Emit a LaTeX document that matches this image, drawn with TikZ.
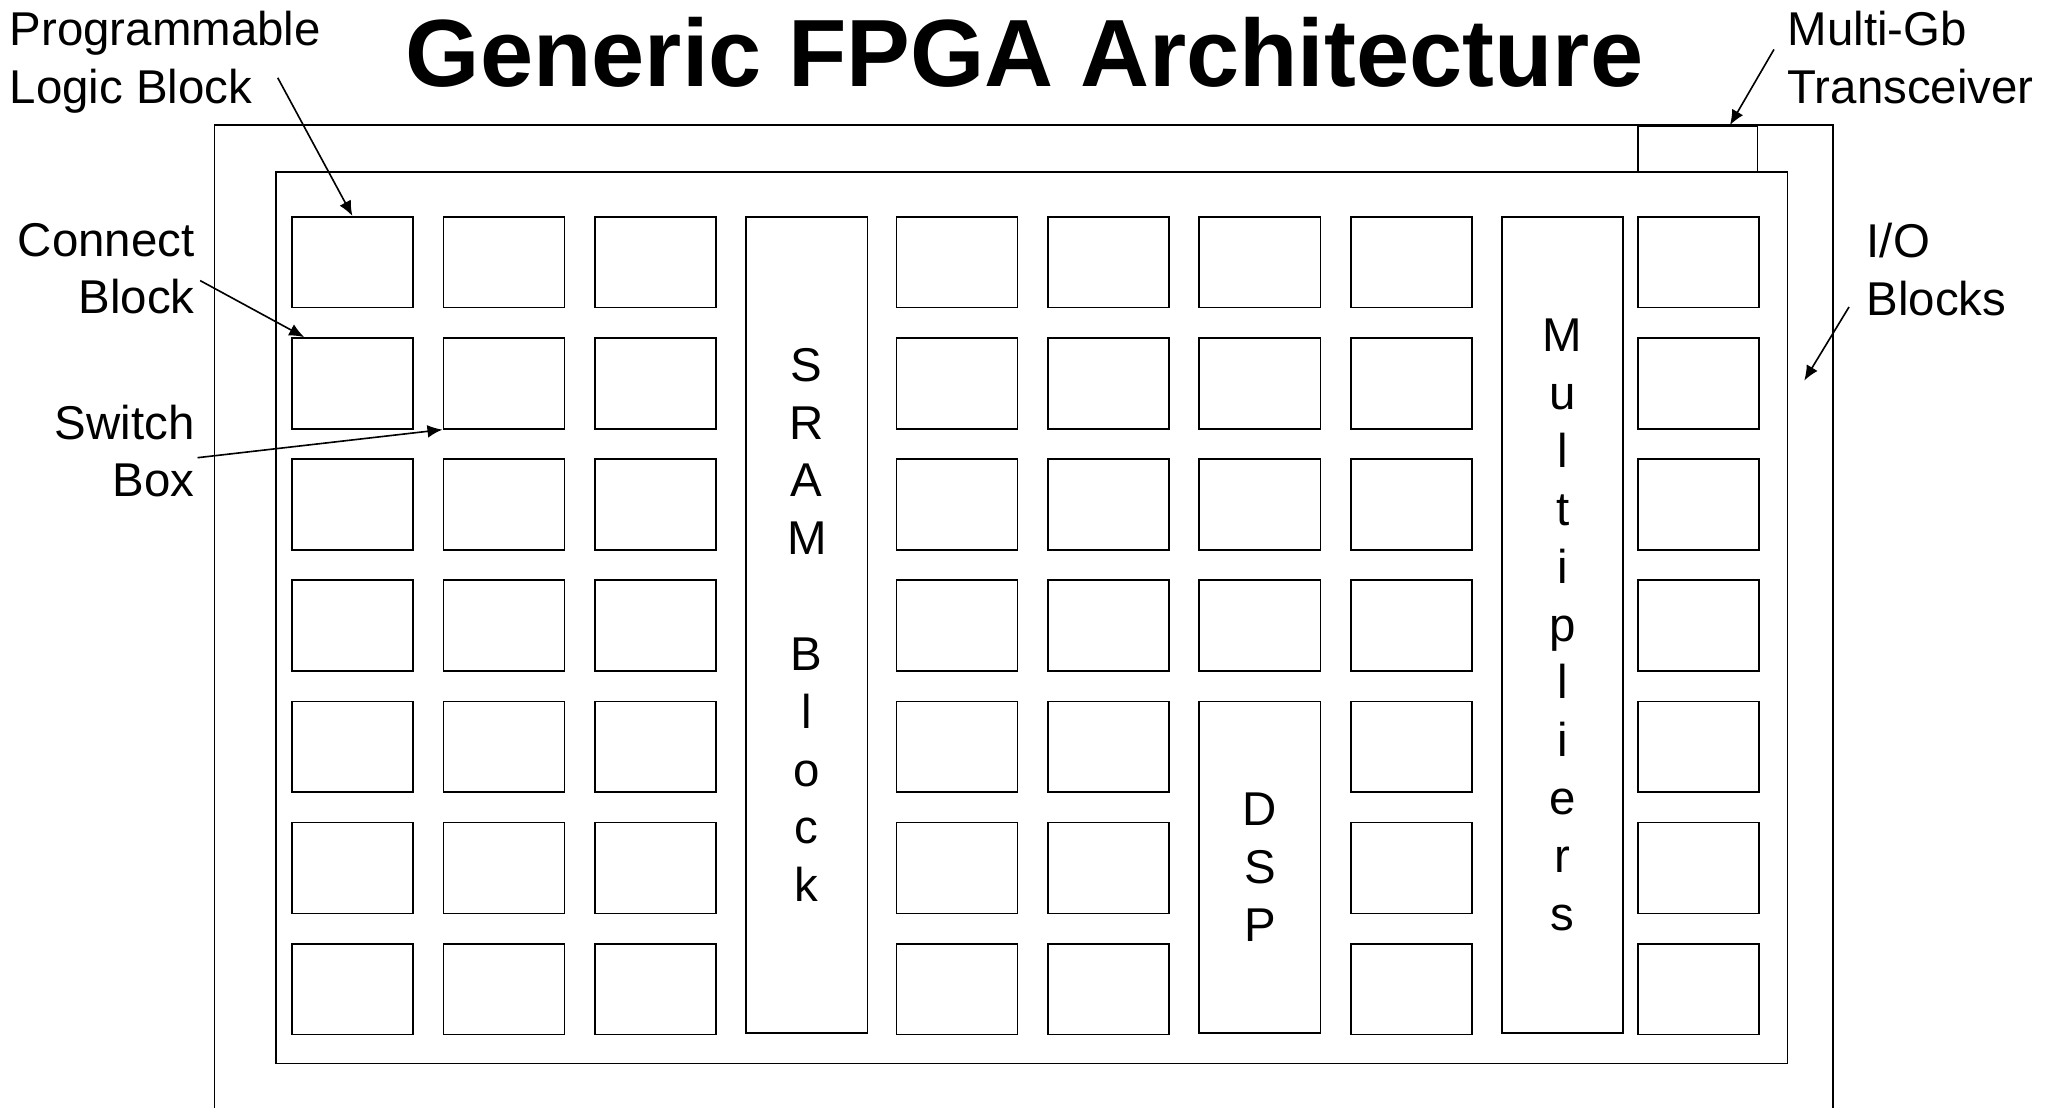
\documentclass[tikz,border=0pt]{standalone}
\usepackage{fontspec}
\setmainfont{Liberation Sans}
\usetikzlibrary{arrows.meta, positioning}

\begin{document}
\begin{tikzpicture}[
        x=0.02cm, y=-0.02cm,
        txt/.style={font=\fontsize{20.5}{25}\selectfont},
        lbl/.style={txt, inner sep=0pt},
        clb/.style={draw, line width=0.7pt, anchor=north west, inner sep=0pt, minimum width=1.84cm, minimum height=1.38cm},
        tall/.style={clb, txt, align=center, minimum height=12.4cm},
        arrow/.style={-{Latex[length=6.5pt,width=5.5pt]}, line width=0.7pt}
    ]
    \useasboundingbox (0,0) rectangle (1568,841);

    % Title
    \node[font=\fontsize{41.3}{50}\selectfont\bfseries, inner sep=0pt, anchor=base] (title) at (778,66) {Generic FPGA Architecture};

    % I/O ring, fabric and transceiver
    \draw[line width=0.7pt] (163,841) |- (1392,95) -- (1392,841);
    \node[clb, minimum width=22.96cm, minimum height=13.54cm] (fabric) at (209,130) {};
    \node[clb, minimum width=1.82cm, minimum height=0.7cm] (xcvr-blk) at (1243,95) {};

    % Logic blocks
    \foreach \c/\x in {0/221,1/336,2/451,4/680,5/795,7/1025,9/1243}
        \foreach \r in {0,...,6}
            \node[clb] (clb-\c-\r) at ({\x},{164+92*\r}) {};
    \foreach \r in {0,...,3}
        \node[clb] (clb-6-\r) at (910,{164+92*\r}) {};

    % Hard blocks
    \node[tall] (sram) at (566,164) {S\\R\\A\\M\\\mbox{}\\B\\l\\o\\c\\k};
    \node[tall] (mult) at (1140,164) {M\\u\\l\\t\\i\\p\\l\\i\\e\\r\\s};
    \node[tall, minimum height=5.04cm] (dsp) at (910,532) {D\\S\\P};

    % Labels
    \node[lbl, align=left, anchor=north west] (plb) at (7,8) {Programmable\\Logic Block};
    \node[lbl, align=right, anchor=north east] (conn) at (148,169) {Connect\\Block};
    \node[lbl, align=right, anchor=north east] (switch) at (148,307) {Switch\\Box};
    \node[lbl, align=left, anchor=north west] (xcvr) at (1357,8) {Multi-Gb\\Transceiver};
    \node[lbl, align=left, anchor=north west] (io) at (1417,169) {I/O\\Blocks};

    % Arrows
    \coordinate (ring-e) at (1370,289);
    \draw[arrow] ([shift={(-33,12)}]plb.east) -- (clb-0-0.north);
    \draw[arrow] ([shift={(4,9)}]conn.east) -- ([shift={(10,0)}]clb-0-1.north west);
    \draw[arrow] ([shift={(2,5)}]switch.east) -- (clb-1-1.south west);
    \draw[arrow] ([shift={(-10,-6)}]xcvr.west) -- ([shift={(24.5,0)}]xcvr-blk.north);
    \draw[arrow] ([shift={(-13,-7)}]io.south west) -- (ring-e);

\end{tikzpicture}
\end{document}
